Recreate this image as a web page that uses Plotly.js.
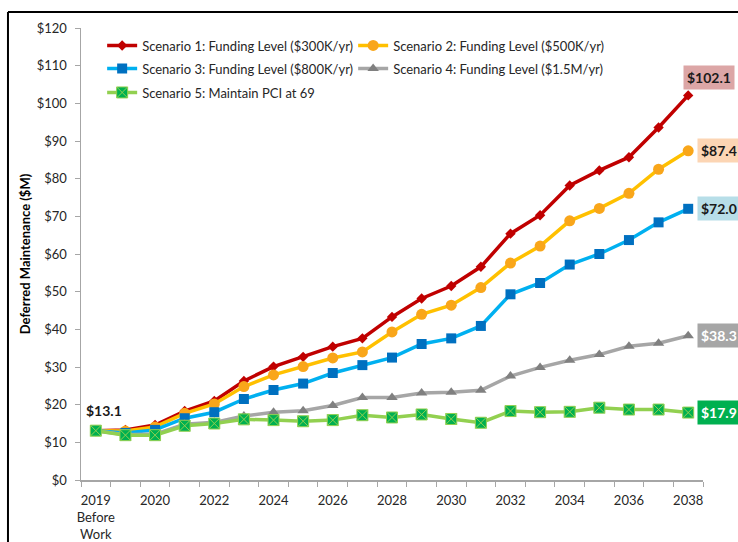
<!DOCTYPE html>
<html>
<head>
<meta charset="utf-8">
<script src="https://cdn.plot.ly/plotly-3.0.1.min.js"></script>
<style>
  body { margin: 0; background: #fff; }
  #chart { width: 738px; height: 542px; }
</style>
</head>
<body>
<div id="chart"></div>
<script>
const CHART = document.getElementById('chart')

// categories: baseline year + 2019..2038
const years = ['2019 Before Work', '2019', '2020', '2021', '2022', '2023', '2024', '2025', '2026', '2027',
  '2028', '2029', '2030', '2031', '2032', '2033', '2034', '2035', '2036', '2037', '2038']
const tickLabels = ['2019<br>Before<br>Work', '2020', '2022', '2024', '2026', '2028', '2030',
  '2032', '2034', '2036', '2038']

const names = [
  'Scenario 1: Funding Level ($300K/yr)',
  'Scenario 2: Funding Level ($500K/yr)',
  'Scenario 3: Funding Level ($800K/yr)',
  'Scenario 4: Funding Level ($1.5M/yr)',
  'Scenario 5: Maintain PCI at 69'
]

// deferred maintenance, $M
const s1 = [13.1, 13.3, 14.6, 18.3, 21.0, 26.3, 30.1, 32.7, 35.4, 37.6, 43.3, 48.2, 51.5, 56.6, 65.4, 70.3, 78.2, 82.2, 85.7, 93.6, 102.1]
const s2 = [13.1, 13.0, 14.1, 17.7, 20.2, 24.8, 27.9, 30.1, 32.4, 34.0, 39.3, 44.0, 46.4, 51.1, 57.6, 62.1, 68.8, 72.1, 76.1, 82.5, 87.4]
const s3 = [13.1, 12.5, 13.3, 16.4, 18.0, 21.5, 23.9, 25.6, 28.4, 30.5, 32.5, 36.1, 37.6, 40.9, 49.3, 52.3, 57.2, 60.0, 63.7, 68.4, 72.0]
const s4 = [13.1, 12.0, 12.2, 14.8, 15.3, 17.0, 18.0, 18.4, 19.8, 21.9, 21.9, 23.1, 23.3, 23.8, 27.6, 29.9, 31.8, 33.3, 35.5, 36.3, 38.3]
const s5 = [13.1, 11.9, 11.9, 14.4, 15.0, 16.1, 15.9, 15.6, 15.9, 17.2, 16.6, 17.4, 16.2, 15.2, 18.3, 18.0, 18.1, 19.2, 18.7, 18.7, 17.9]

const xi = years.map((_, i) => i)
const tickPos = years.map((y, i) => i).filter(i => i % 2 === 0)

const FONT = 'Lato, "Open Sans", sans-serif'

function series (y, name, lineColor, marker, legend) {
  return {
    x: xi,
    y: y,
    name: name,
    type: 'scatter',
    mode: 'lines+markers',
    line: { color: lineColor, width: 3.5 },
    marker: marker,
    legend: legend,
    hoverinfo: 'x+y'
  }
}

const traces = [
  series(s1, names[0], '#c00000', { symbol: 'diamond', size: 8, color: '#c00000' }, 'legend'),
  series(s2, names[1], '#ffc000', { symbol: 'circle', size: 11, color: '#f9a61a' }, 'legend'),
  series(s3, names[2], '#00b0f0', { symbol: 'square', size: 10, color: '#0070c0' }, 'legend2'),
  series(s4, names[3], '#a6a6a6', { symbol: 'triangle-up', size: 10, color: '#808080' }, 'legend2'),
  series(s5, names[4], '#92d050', { symbol: 'square-x', size: 11, color: '#00b050', line: { color: '#92d050', width: 1 } }, 'legend3')
]

// end-of-line value boxes
const endLabels = [
  { y: s1[20], bg: '#dca6a6', fg: '#1a1a1a', xs: -5, ys: 18 },
  { y: s2[20], bg: '#fcd5b4', fg: '#1a1a1a', xs: 9, ys: 0 },
  { y: s3[20], bg: '#b7dee8', fg: '#1a1a1a', xs: 9, ys: 0 },
  { y: s4[20], bg: '#a6a6a6', fg: '#ffffff', xs: 9, ys: 0 },
  { y: s5[20], bg: '#00b050', fg: '#ffffff', xs: 9, ys: 0 }
]

const annotations = endLabels.map(l => ({
  x: 20,
  y: l.y,
  xref: 'x',
  yref: 'y',
  text: '$' + l.y.toFixed(1),
  showarrow: false,
  xanchor: 'left',
  yanchor: 'middle',
  xshift: l.xs,
  yshift: l.ys,
  bgcolor: l.bg,
  borderpad: 3,
  font: { family: FONT, size: 14, color: l.fg, weight: 'bold' }
}))

annotations.push({
  x: 0,
  y: s1[0],
  text: '$' + s1[0].toFixed(1),
  showarrow: false,
  xanchor: 'center',
  yanchor: 'bottom',
  xshift: 8,
  yshift: 10,
  font: { family: FONT, size: 14, color: '#1a1a1a', weight: 'bold' }
})

function legendRow (y) {
  return {
    orientation: 'h',
    x: 0.034,
    y: y,
    xanchor: 'left',
    yanchor: 'top',
    entrywidth: 206,
    entrywidthmode: 'pixels',
    itemwidth: 30,
    bgcolor: 'rgba(0,0,0,0)',
    font: { family: FONT, size: 13, color: '#262626' }
  }
}

const layout = {
  width: 738,
  height: 542,
  margin: { l: 81, r: 35, t: 28, b: 62 },
  paper_bgcolor: '#ffffff',
  plot_bgcolor: '#ffffff',
  font: { family: FONT, size: 13, color: '#262626' },
  showlegend: true,
  legend: legendRow(0.9945),
  legend2: legendRow(0.9436),
  legend3: legendRow(0.8905),
  xaxis: {
    range: [-0.5, 20.5],
    tickmode: 'array',
    tickvals: tickPos,
    ticktext: tickLabels,
    ticks: 'outside',
    ticklen: 8,
    tickcolor: 'rgba(0,0,0,0)',
    showgrid: false,
    zeroline: false,
    showline: true,
    linecolor: '#a6a6a6',
    linewidth: 1.5,
    tickfont: { family: FONT, size: 13, color: '#262626' },
    minor: {
      tick0: -0.5,
      dtick: 1,
      ticks: 'outside',
      ticklen: 5,
      tickcolor: '#a6a6a6',
      tickwidth: 1,
      showgrid: false
    }
  },
  yaxis: {
    range: [0, 120],
    dtick: 10,
    tickprefix: '$',
    ticks: 'outside',
    ticklen: 5,
    tickcolor: '#a6a6a6',
    ticklabelstandoff: 5,
    showgrid: false,
    zeroline: false,
    showline: true,
    linecolor: '#a6a6a6',
    linewidth: 1.5,
    tickfont: { family: FONT, size: 13, color: '#262626' },
    title: {
      text: 'Deferred Maintenance ($M)',
      standoff: 3,
      font: { family: FONT, size: 13, color: '#000000', weight: 'bold' }
    }
  },
  annotations: annotations,
  shapes: [
    { type: 'line', xref: 'paper', yref: 'paper', x0: -0.1174, x1: -0.1174, y0: -0.14, y1: 1.0354, line: { color: '#000000', width: 2 } },
    { type: 'line', xref: 'paper', yref: 'paper', x0: -0.1174, x1: 1.06, y0: 1.0354, y1: 1.0354, line: { color: '#000000', width: 2 } }
  ]
}

Plotly.newPlot(CHART, traces, layout, { displayModeBar: false, staticPlot: true })
</script>
</body>
</html>
